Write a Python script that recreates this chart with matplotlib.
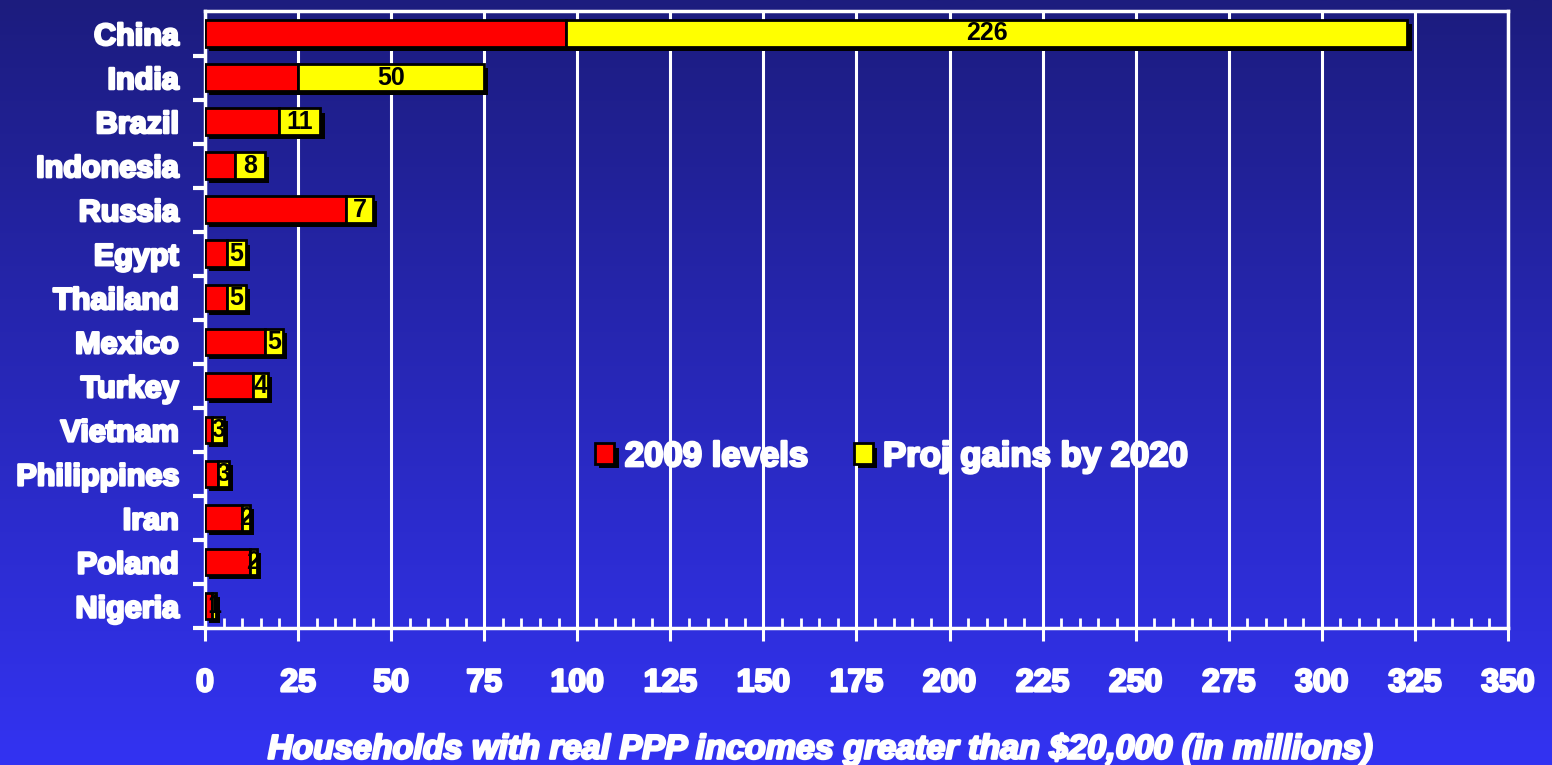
import matplotlib.pyplot as plt
import matplotlib.patheffects as pe
from matplotlib.colors import LinearSegmentedColormap
from matplotlib.ticker import MultipleLocator
import numpy as np

countries = ['China', 'India', 'Brazil', 'Indonesia', 'Russia', 'Egypt', 'Thailand',
             'Mexico', 'Turkey', 'Vietnam', 'Philippines', 'Iran', 'Poland', 'Nigeria']
levels_2009 = [97, 25, 20, 8, 38, 6, 6, 16, 13, 2, 3.5, 10, 12, 2]
gains_2020 = [226, 50, 11, 8, 7, 5, 5, 5, 4, 3, 3, 2, 2, 1]

plt.rcParams['font.family'] = ['Liberation Sans', 'DejaVu Sans']
plt.rcParams['font.weight'] = 'bold'

heavy = [pe.withStroke(linewidth=1.8, foreground='white')]
shadow = [pe.SimplePatchShadow(offset=(3, -3), shadow_rgbFace='black', alpha=1.0), pe.Normal()]

fig = plt.figure(figsize=(15.52, 7.65), dpi=100)

# background gradient, dark navy at top to bright blue at bottom
bg = fig.add_axes([0, 0, 1, 1], zorder=-10)
grad_cmap = LinearSegmentedColormap.from_list('bg', ['#1c1c7e', '#3333f2'])
bg.imshow(np.linspace(0, 1, 256).reshape(-1, 1), aspect='auto', cmap=grad_cmap,
          extent=[0, 1, 0, 1])
bg.axis('off')

ax = fig.add_axes([0.1321, 0.179, 0.8395, 0.806])
ax.patch.set_alpha(0)

y = np.arange(len(countries))
h = 0.6
red = ax.barh(y, levels_2009, h, color='#ff0000', edgecolor='black', linewidth=2, zorder=3)
yel = ax.barh(y, gains_2020, h, left=levels_2009, color='#ffff00', edgecolor='black',
              linewidth=2, zorder=3)
for b in list(red) + list(yel):
    b.set_path_effects(shadow)

for b, v in zip(yel, gains_2020):
    t = ax.text(b.get_x() + b.get_width() / 2, b.get_y() + b.get_height() / 2, str(v),
                ha='center', va='center', color='black', fontsize=18, fontweight='bold',
                zorder=4)
    t.set_clip_path(b)

ax.set_xlim(0, 350)
ax.set_ylim(13.5, -0.5)
ax.xaxis.set_major_locator(MultipleLocator(25))
ax.xaxis.set_minor_locator(MultipleLocator(5))
ax.set_yticks(y + 0.5, minor=False)
ax.set_yticks(y, minor=True)
ax.set_yticklabels([''] * len(y))
ax.set_yticklabels(countries, minor=True)

ax.grid(axis='x', which='major', color='white', linewidth=2.2, zorder=1)
for s in ax.spines.values():
    s.set_color('white')
    s.set_linewidth(2.5)

ax.tick_params(axis='x', which='major', direction='out', length=9, width=2.2,
               color='white', labelcolor='white', labelsize=23, pad=20)
ax.tick_params(axis='x', which='minor', direction='in', length=7, width=2, color='white')
ax.tick_params(axis='y', which='major', direction='out', length=9, width=3, color='white')
ax.tick_params(axis='y', which='minor', direction='in', length=6, width=2, color='white',
               labelcolor='white', labelsize=22, pad=19)

for lab in ax.get_xticklabels() + ax.get_yticklabels(minor=True):
    lab.set_path_effects(heavy)

ax.set_xlabel('Households with real PPP incomes greater than $20,000 (in millions)',
              color='white', fontsize=24.5, fontstyle='italic', fontweight='bold',
              path_effects=heavy)
ax.xaxis.set_label_coords(0.472, -0.172)

leg = ax.legend([red, yel], ['2009 levels', 'Proj gains by 2020'], loc='center',
                bbox_to_anchor=(0.527, 0.278), ncol=2, frameon=False, fontsize=25,
                handlelength=0.55, handleheight=0.55, handletextpad=0.3,
                columnspacing=1.3)
for t in leg.get_texts():
    t.set_color('white')
    t.set_path_effects(heavy)

fig.savefig('out.png', dpi=100)
